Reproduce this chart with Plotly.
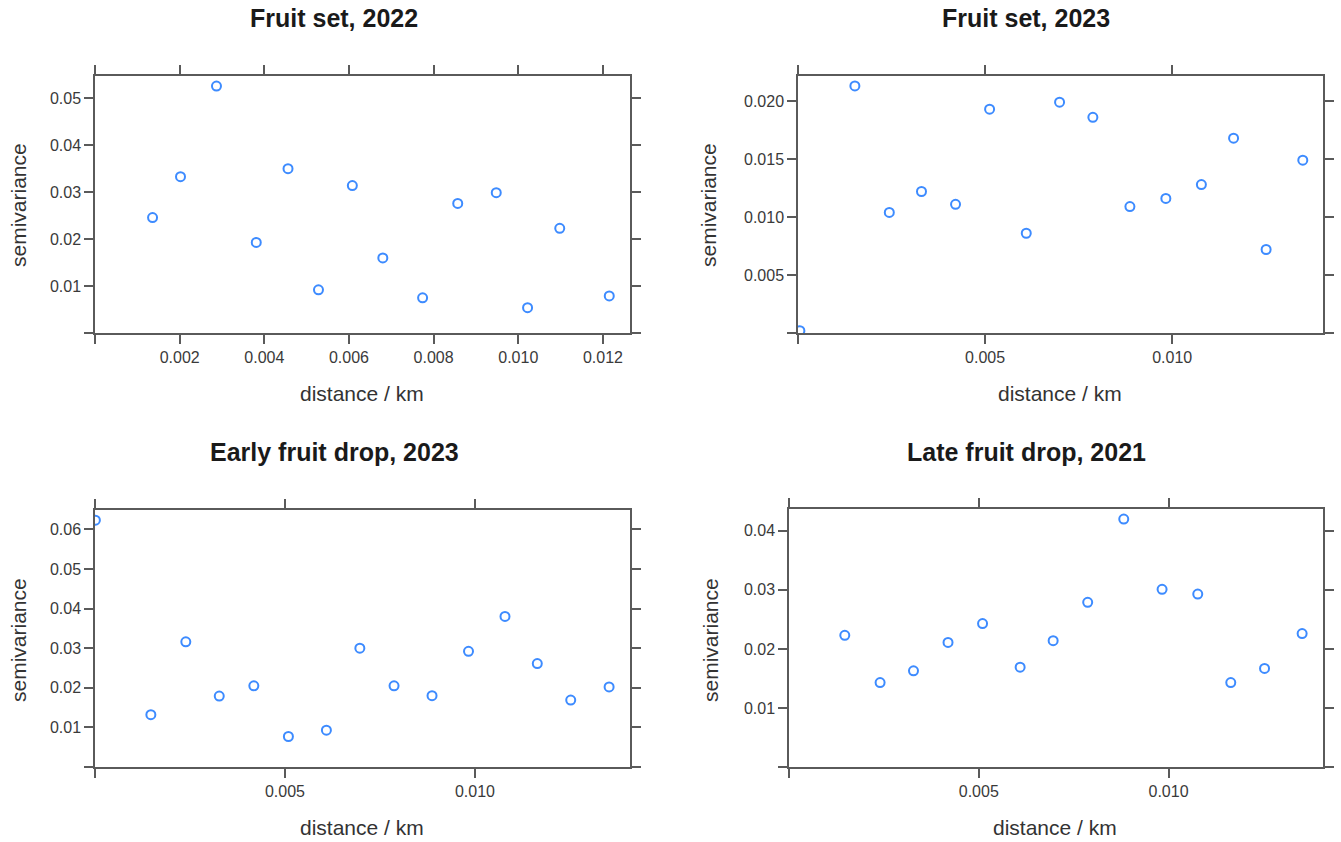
import plotly.graph_objects as go

# ---- data ----
titles = ["Fruit set, 2022", "Fruit set, 2023", "Early fruit drop, 2023", "Late fruit drop, 2021"]

fs22_dist = [0.00136, 0.00202, 0.00287, 0.00381, 0.00456, 0.00528, 0.00608, 0.00680,
             0.00774, 0.00857, 0.00948, 0.01022, 0.01098, 0.01215]
fs22_gamma = [0.0246, 0.0333, 0.0526, 0.0193, 0.0350, 0.0092, 0.0314, 0.0160,
              0.0075, 0.0276, 0.0299, 0.0054, 0.0223, 0.0079]

fs23_dist = [0.00005, 0.00152, 0.00244, 0.00330, 0.00421, 0.00512, 0.00610, 0.00699,
             0.00788, 0.00887, 0.00983, 0.01078, 0.01164, 0.01251, 0.01349]
fs23_gamma = [0.0002, 0.0213, 0.0104, 0.0122, 0.0111, 0.0193, 0.0086, 0.0199,
              0.0186, 0.0109, 0.0116, 0.0128, 0.0168, 0.0072, 0.0149]

efd23_dist = [0.00001, 0.00147, 0.00239, 0.00327, 0.00418, 0.00509, 0.00609, 0.00697,
              0.00787, 0.00887, 0.00983, 0.01079, 0.01164, 0.01252, 0.01353]
efd23_gamma = [0.0623, 0.0132, 0.0316, 0.0179, 0.0205, 0.0077, 0.0093, 0.0300,
               0.0205, 0.0180, 0.0292, 0.0380, 0.0261, 0.0169, 0.0202]

lfd21_dist = [0.00147, 0.00240, 0.00328, 0.00419, 0.00510, 0.00609, 0.00696, 0.00787,
              0.00882, 0.00983, 0.01077, 0.01164, 0.01253, 0.01352]
lfd21_gamma = [0.0223, 0.0143, 0.0163, 0.0211, 0.0243, 0.0169, 0.0214, 0.0279,
               0.0420, 0.0301, 0.0293, 0.0143, 0.0167, 0.0226]

# tick values / labels
x_ticks_1 = [0, 0.002, 0.004, 0.006, 0.008, 0.010, 0.012]
x_text_1 = ["", "0.002", "0.004", "0.006", "0.008", "0.010", "0.012"]
x_ticks_2 = [0, 0.005, 0.010]
x_text_2 = ["", "0.005", "0.010"]
y_ticks_1 = [0, 0.01, 0.02, 0.03, 0.04, 0.05]
y_text_1 = ["", "0.01", "0.02", "0.03", "0.04", "0.05"]
y_ticks_2 = [0, 0.005, 0.010, 0.015, 0.020]
y_text_2 = ["", "0.005", "0.010", "0.015", "0.020"]
y_ticks_3 = [0, 0.01, 0.02, 0.03, 0.04, 0.05, 0.06]
y_text_3 = ["", "0.01", "0.02", "0.03", "0.04", "0.05", "0.06"]
y_ticks_4 = [0, 0.01, 0.02, 0.03, 0.04]
y_text_4 = ["", "0.01", "0.02", "0.03", "0.04"]

# ---- layout helpers ----
W, H = 1341, 842
def px(x):
    return x / W
def py(y):
    return 1 - y / H

panels = [
    dict(x=fs22_dist, y=fs22_gamma, dom=(95, 630, 76, 333), xr=[0, 0.01264], yr=[0, 0.05475],
         xt=(x_ticks_1, x_text_1), yt=(y_ticks_1, y_text_1),
         title_xy=(334, 18), xlab_xy=(362, 393), ylab_xy=(18, 205)),
    dict(x=fs23_dist, y=fs23_gamma, dom=(798, 1323, 76, 333), xr=[0, 0.01403], yr=[0, 0.02216],
         xt=(x_ticks_2, x_text_2), yt=(y_ticks_2, y_text_2),
         title_xy=(1026, 18), xlab_xy=(1060, 393), ylab_xy=(708, 205)),
    dict(x=efd23_dist, y=efd23_gamma, dom=(95, 630, 510, 767), xr=[0, 0.01408], yr=[0, 0.06487],
         xt=(x_ticks_2, x_text_2), yt=(y_ticks_3, y_text_3),
         title_xy=(334, 452), xlab_xy=(362, 827), ylab_xy=(18, 640)),
    dict(x=lfd21_dist, y=lfd21_gamma, dom=(789, 1323, 509, 767), xr=[0, 0.01407], yr=[0, 0.0437],
         xt=(x_ticks_2, x_text_2), yt=(y_ticks_4, y_text_4),
         title_xy=(1026, 452), xlab_xy=(1055, 827), ylab_xy=(710, 640)),
]

FONT = "Liberation Sans, Arial, sans-serif"
fig = go.Figure()
line_col = "#5a5a5a"
tick_font = dict(family=FONT, size=16, color="#3a3a3a")
annotations = []

for i, p in enumerate(panels):
    n = "" if i == 0 else str(i + 1)
    fig.add_trace(go.Scatter(
        x=p["x"], y=p["y"], mode="markers",
        xaxis="x" + n, yaxis="y" + n,
        marker=dict(symbol="circle-open", size=9, color="#3d8bff",
                    line=dict(width=2, color="#3d8bff")),
        showlegend=False, hoverinfo="x+y",
    ))
    l, r, t, b = p["dom"]
    common = dict(showline=True, linecolor=line_col, linewidth=1.5, mirror="allticks",
                  ticks="outside", ticklen=9, tickwidth=1.5, tickcolor=line_col,
                  showgrid=False, zeroline=False, tickfont=tick_font, tickmode="array")
    fig.layout["xaxis" + n] = dict(domain=[px(l), px(r)], range=p["xr"], anchor="y" + n,
                                   tickvals=p["xt"][0], ticktext=p["xt"][1], **common)
    fig.layout["yaxis" + n] = dict(domain=[py(b), py(t)], range=p["yr"], anchor="x" + n,
                                   tickvals=p["yt"][0], ticktext=p["yt"][1], **common)
    tx, ty = p["title_xy"]
    annotations.append(dict(text="<b>" + titles[i] + "</b>", x=px(tx), y=py(ty),
                            xref="paper", yref="paper", showarrow=False,
                            xanchor="center", yanchor="middle",
                            font=dict(family=FONT, size=25, color="#1a1a1a")))
    lx, ly = p["xlab_xy"]
    annotations.append(dict(text="distance / km", x=px(lx), y=py(ly),
                            xref="paper", yref="paper", showarrow=False,
                            xanchor="center", yanchor="middle",
                            font=dict(family=FONT, size=21, color="#333333")))
    yx, yy = p["ylab_xy"]
    annotations.append(dict(text="semivariance", x=px(yx), y=py(yy), textangle=-90,
                            xref="paper", yref="paper", showarrow=False,
                            xanchor="center", yanchor="middle",
                            font=dict(family=FONT, size=21, color="#333333")))

fig.update_layout(
    width=W, height=H,
    margin=dict(l=0, r=0, t=0, b=0),
    paper_bgcolor="white", plot_bgcolor="white",
    annotations=annotations,
)

fig.write_html("out.html", config={"displayModeBar": False},
               post_script="document.body.style.margin='0';document.body.style.overflow='hidden';")
